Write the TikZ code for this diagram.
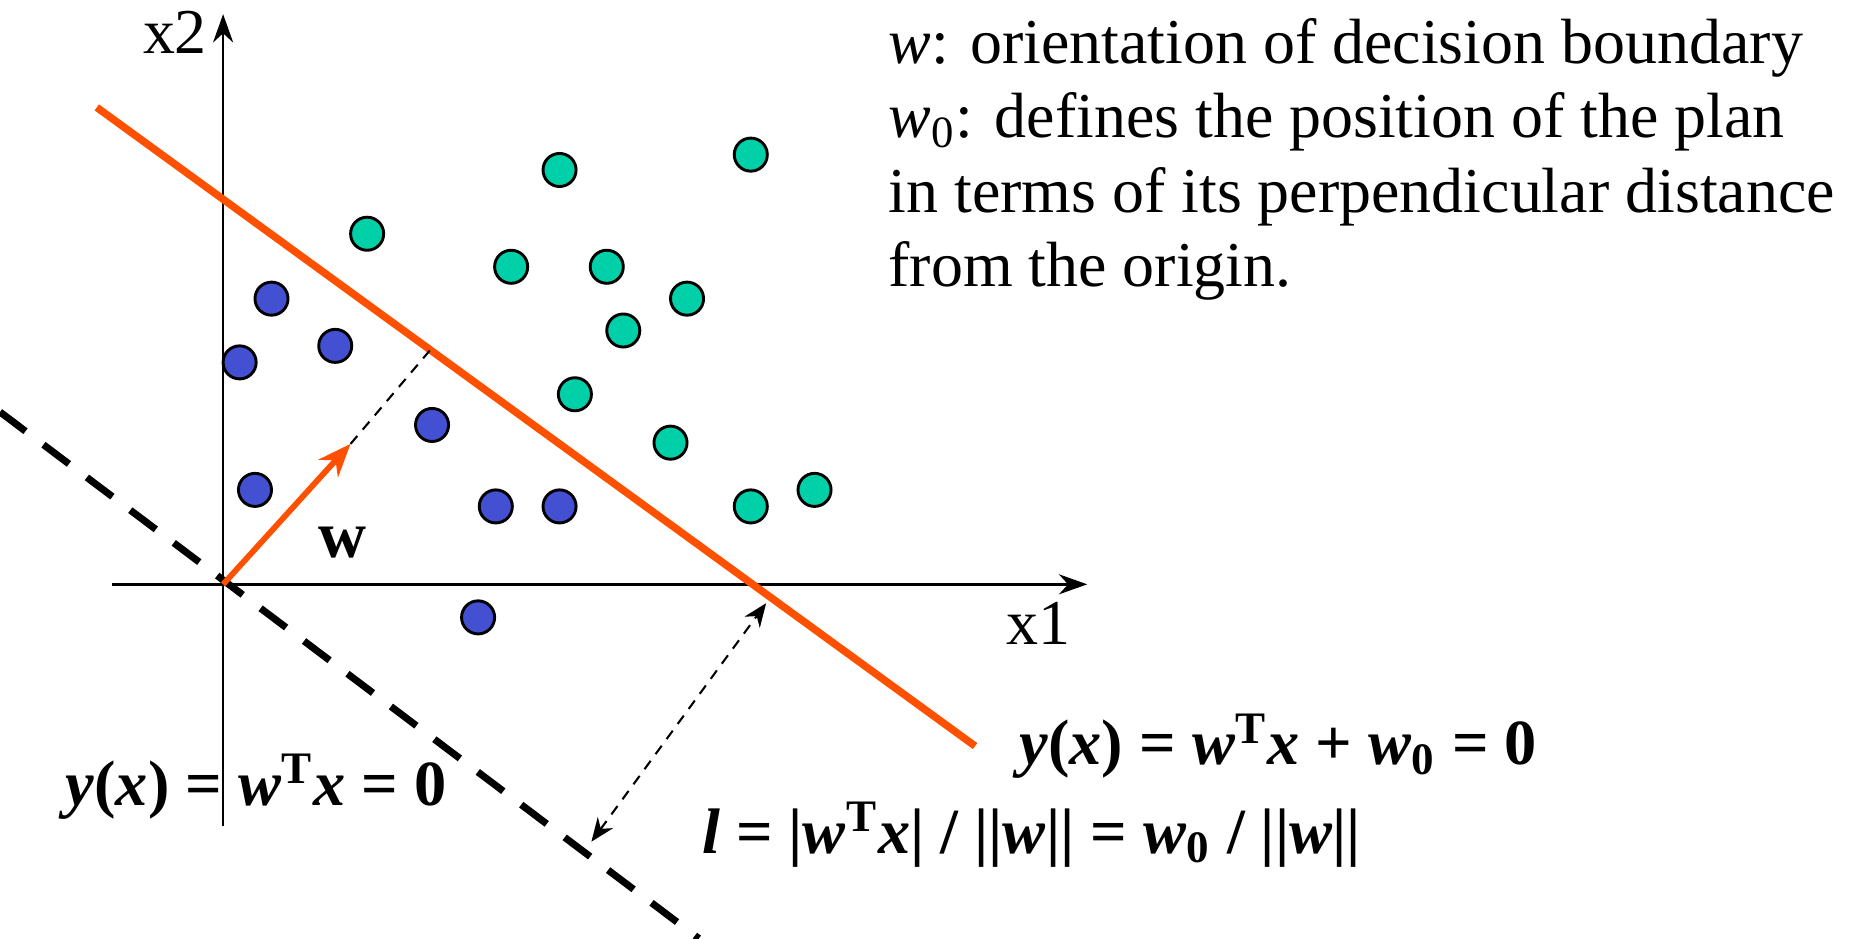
\documentclass[tikz,border=0pt]{standalone}
\usepackage{fontspec}
\setmainfont{Liberation Serif}
\usetikzlibrary{arrows.meta}
\definecolor{BoundOrange}{HTML}{FF5000}
\definecolor{DotBlue}{HTML}{4450D2}
\definecolor{DotTeal}{HTML}{00D0A8}
\newcommand{\bi}[1]{\textbf{\textit{#1}}}

\begin{document}
\begin{tikzpicture}[x=0.01cm,y=-0.01cm,every node/.style={font=\fontsize{15.4}{17.9}\selectfont,inner sep=0pt},
  axisline/.style={line width=0.6pt,-{Stealth[length=2.4mm,width=1.7mm]}},
  bluedot/.style={circle,draw=black,line width=0.7pt,fill=DotBlue,minimum size=0.28cm},
  tealdot/.style={circle,draw=black,line width=0.7pt,fill=DotTeal,minimum size=0.28cm},
  eqlabel/.style={anchor=base west,font=\fontsize{15.5}{18}\selectfont\bfseries}]
  \useasboundingbox (0,0) rectangle (1568,795);
  \coordinate (o) at (189,495);
  \coordinate (xs) at (95,495);
  \coordinate (xe) at (921,495);
  \coordinate (ys) at (189,700);
  \coordinate (ye) at (189,12);
  \draw[axisline] (xs) -- (xe);
  \draw[axisline] (ys) -- (ye);
  \node[anchor=base east] (x2) at (176,45) {x2};
  \node[anchor=base west] (x1) at (852,546) {x1};
  \coordinate (bs) at (82,91);
  \coordinate (be) at (826,632);
  \draw[BoundOrange,line width=1.8pt] (bs) -- (be);
  \coordinate (ds) at (0,349);
  \coordinate (de) at (592,795);
  \draw[line width=1.7pt,dash pattern=on 7.7pt off 5.4pt] (ds) -- (de);
  \coordinate (wt) at (297,376);
  \coordinate (wf) at (364,297);
  \draw[BoundOrange,line width=1.4pt,-{Stealth[length=2.8mm,width=2.2mm]}] (o) -- (wt);
  \draw[line width=0.5pt,dash pattern=on 2.5pt off 2pt] (wt) -- (wf);
  \node[font=\fontsize{16}{18}\selectfont\bfseries] (wl) at (290,460) {w};
  \coordinate (la) at (501,713);
  \coordinate (lb) at (649,511);
  \draw[line width=0.5pt,dash pattern=on 2.5pt off 2pt,{Stealth[length=2mm,width=1.6mm]}-{Stealth[length=2mm,width=1.6mm]}] (la) -- (lb);
  \foreach \p [count=\i] in {(230,253),(203,307),(284,293),(366,360),(216,415),(420,429),(474,429),(405,523)}
    \node[bluedot] (b\i) at \p {};
  \foreach \p [count=\i] in {(311,198),(474,144),(636,131),(433,226),(514,226),(582,253),(528,280),(487,334),(568,375),(636,429),(690,415)}
    \node[tealdot] (t\i) at \p {};
  \node[anchor=north west,align=left] (info) at (752,15) {\textit{w}: orientation of decision boundary\\
    \textit{w}\textsubscript{0}: defines the position of the plan\\
    in terms of its perpendicular distance\\
    from the origin.};
  \node[eqlabel] (eqb) at (863,648) {\bi{y}(\bi{x}) = \bi{w}\textsuperscript{T}\bi{x} + \bi{w}\textsubscript{0} = 0};
  \node[eqlabel] (eqo) at (55,682) {\bi{y}(\bi{x}) = \bi{w}\textsuperscript{T}\bi{x} = 0};
  \node[eqlabel] (eqd) at (594,723) {\bi{l} = |\bi{w}\textsuperscript{T}\bi{x}| / ||\bi{w}|| = \bi{w}\textsubscript{0} / ||\bi{w}||};
\end{tikzpicture}
\end{document}
